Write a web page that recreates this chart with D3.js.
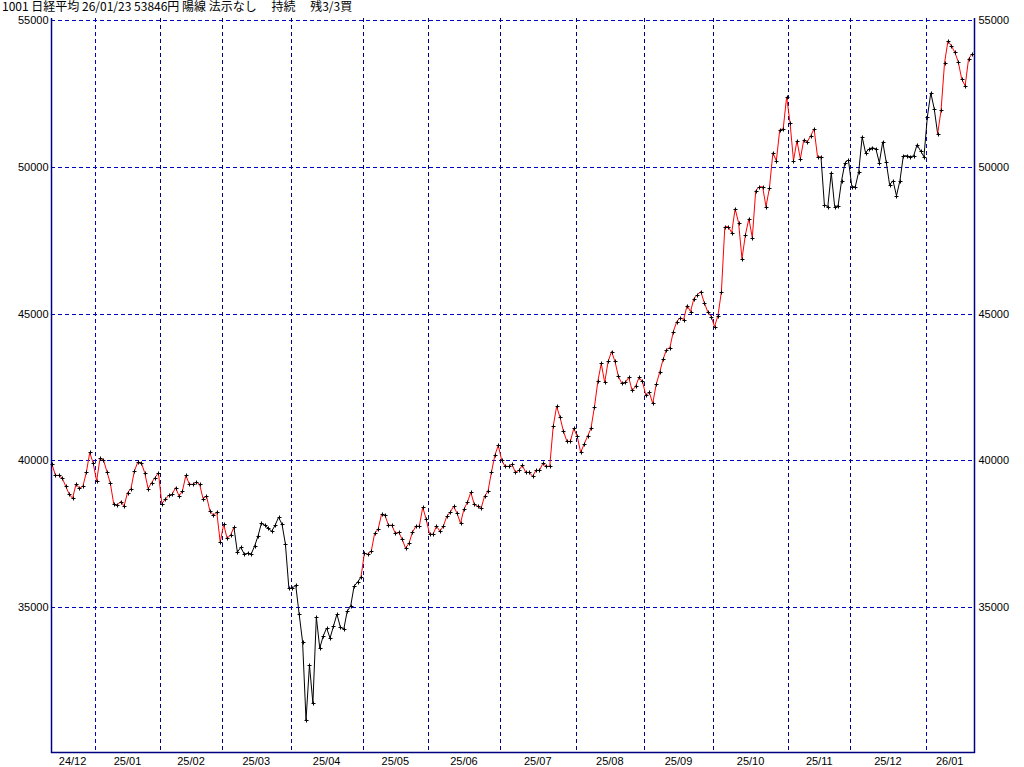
<!DOCTYPE html>
<html>
<head>
<meta charset="utf-8">
<script src="https://cdn.jsdelivr.net/npm/d3@7"></script>
<style>
  body { margin: 0; background: #fff; }
  svg { display: block; }
  text { font-family: "Liberation Sans Narrow", "Liberation Sans", sans-serif; font-size: 11px; }
  .title { font-family: "Noto Sans CJK JP", sans-serif; font-size: 12px; }
</style>
</head>
<body>
<svg id="chart" width="1024" height="767"></svg>
<script>
// month labels and closes
const monthLabels = ["24/12","25/01","25/02","25/03","25/04","25/05","25/06","25/07","25/08","25/09","25/10","25/11","25/12","26/01"];
const dec24 = [39870,39490,39490,39390,39120,38850,38710,39190,39050,39120,39590,40270,39900];
const jan25 = [39298,40070,40012,39617,39219,38505,38481,38597,38447,38903,39040,39637,39944,39923,39583,39040,39244,39414,39583];
const feb25 = [38529,38675,38811,38845,39073,38787,38957,39491,39185,39185,39264,39185,38699,38787,38277,38131,38244,37213];
const mar25 = [37825,37349,37451,37723,36873,37043,36805,36839,36805,37077,37417,37859,37791,37689,37587,37791,38063,37825,37145,35649];
const apr25 = [35649,35751,34764,33812,31159,33029,31737,34662,33608,34016,34288,33948,34356,34764,34322,34254,34866,35036,35717,35853,36023];
const may25 = [36839,36805,36907,37519,37655,38165,38131,37791,37791,37519,37553,37315,37009,37179,37553,37757,37757,38403,37995];
const jun25 = [37485,37485,37757,37587,37757,38097,38233,38437,38199,37859,38335,38573,38913,38505,38437,38369,38777,38947,39593,40172,40512];
const jul25 = [40002,39798,39798,39866,39593,39661,39832,39593,39593,39457,39661,39661,39900,39798,39798,41158,41838,41464,40988,40648,40648,41090];
const aug25 = [40818,40274,40546,40818,41090,41804,42688,43301,42654,43369,43709,43369,42858,42620,42654,42824,42382,42518,42824,42688];
const sep25 = [42212,42314,41940,42586,42994,43437,43777,43845,44389,44729,44865,44797,45273,45069,45511,45647,45749,45375,45069,44899];
const oct25 = [44559,44933,45749,47960,47960,47756,48572,48096,46871,47688,48232,47586,49184,49320,49320,48640,49286,50476,50204,51259,51293,52381];
const nov25 = [51497,50205,50885,50273,50919,50851,51055,51293,50341,50341,48708,48640,49797,48640,48674,49524,50137,50239];
const dec25 = [49320,49320,49830,51021,50477,50613,50647,50613,50137,50851,50171,49388,49524,49014,49524,50375,50375,50341,50375,50749,50545,50341];
const jan26 = [51701,52517,51973,51123,51939,53538,54286,54116,53900,53572,52993,52755,53674,53846];
const yTicks = [35000, 40000, 45000, 50000, 55000];
// segment index where the line colour switches
const regimeStart = [0, 53, 90, 224, 258];
const regimeColor = ["#ff0000", "#000000", "#ff0000", "#000000", "#ff0000"];

const months = [dec24, jan25, feb25, mar25, apr25, may25, jun25, jul25, aug25, sep25, oct25, nov25, dec25, jan26];
const closes = months.flat();

const svg = d3.select("#chart");
const plotLeft = 51, plotRight = 974, plotTop = 18, plotBottom = 752;
const navy = "#000080";

const x = d3.scaleLinear().domain([0, closes.length - 1]).range([plotLeft + 1, plotRight - 2]);
const y = d3.scaleLinear().domain([30000, 55000]).range([plotBottom + 2, 20]);

// header
svg.append("text").attr("class", "title").attr("x", 2).attr("y", 11)
  .text("1001 日経平均 26/01/23 53846円 陽線 法示なし　 持続　 残3/3買");

// horizontal grid
svg.append("g").selectAll("line").data(yTicks).join("line")
  .attr("x1", plotLeft).attr("x2", plotRight)
  .attr("y1", d => Math.round(y(d)) + 0.5).attr("y2", d => Math.round(y(d)) + 0.5)
  .attr("stroke", "#0000c0").attr("stroke-dasharray", "4,3");

// month boundaries
let starts = [], acc = 0;
months.forEach(m => { starts.push(acc); acc += m.length; });
const bounds = starts.slice(1);
svg.append("g").selectAll("line").data(bounds).join("line")
  .attr("x1", d => Math.round(x(d - 0.5)) + 0.5).attr("x2", d => Math.round(x(d - 0.5)) + 0.5)
  .attr("y1", plotTop).attr("y2", plotBottom)
  .attr("stroke", (d, i) => (monthLabels[i + 1].endsWith("/01") ? "#0000c0" : navy))
  .attr("stroke-dasharray", "4,3");

// axes frame
const yl = d3.axisLeft(y).tickValues(yTicks).tickSize(0).tickPadding(3).tickFormat(d3.format("d"));
const yr = d3.axisRight(y).tickValues(yTicks).tickSize(0).tickPadding(4).tickFormat(d3.format("d"));
const gl = svg.append("g").attr("transform", `translate(${plotLeft + 0.5},0)`).call(yl);
const gr = svg.append("g").attr("transform", `translate(${plotRight + 0.5},0)`).call(yr);
[gl, gr].forEach(g => {
  g.select(".domain").remove();
  g.selectAll("text").attr("fill", "#000").style("font-size", "11px");
});
svg.append("path")
  .attr("d", `M${plotLeft + 0.5},${plotTop} V${plotBottom + 0.5} H${plotRight + 0.5} V${plotTop}`)
  .attr("fill", "none").attr("stroke", navy).attr("stroke-width", 1.5);

// month labels
svg.append("g").selectAll("text").data(monthLabels).join("text")
  .attr("x", (d, i) => {
    const a = x(starts[i] - 0.5), b = x(starts[i] + months[i].length - 0.5);
    return Math.max((a + b) / 2, plotLeft + 7);
  })
  .attr("y", 765).attr("text-anchor", "middle").text(d => d);

// price segments
function colorAt(i) {
  let c = regimeColor[0];
  regimeStart.forEach((s, k) => { if (i >= s) c = regimeColor[k]; });
  return c;
}
svg.append("g").selectAll("line").data(d3.pairs(closes)).join("line")
  .attr("x1", (d, i) => x(i)).attr("y1", d => y(d[0]))
  .attr("x2", (d, i) => x(i + 1)).attr("y2", d => y(d[1]))
  .attr("stroke", (d, i) => colorAt(i)).attr("stroke-width", 1);

// markers
svg.append("g").selectAll("path").data(closes).join("path")
  .attr("d", (d, i) => {
    const cx = Math.round(x(i)) + 0.5, cy = Math.round(y(d)) + 0.5;
    return `M${cx - 2},${cy} H${cx + 2} M${cx},${cy - 2} V${cy + 2}`;
  })
  .attr("stroke", "#000").attr("stroke-width", 1);
</script>
</body>
</html>
